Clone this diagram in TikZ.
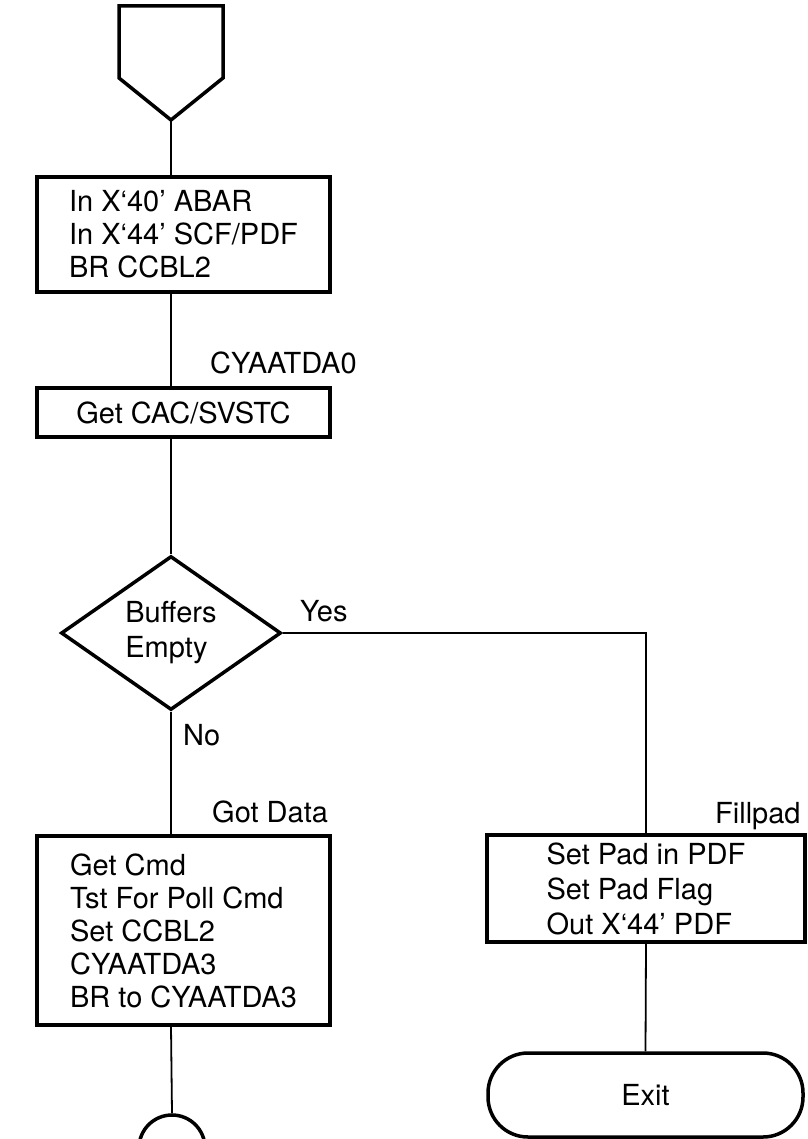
\documentclass[tikz,border=0pt]{standalone}
\usepackage{fontspec}
\setmainfont{TeX Gyre Heros}
\usetikzlibrary{shapes.geometric}

\begin{document}
\begin{tikzpicture}[x=1pt, y=-1pt,
    box/.style={draw, line width=3.5pt, align=left, inner sep=0pt, font=\fontsize{29}{33}\selectfont},
    lbl/.style={anchor=base west, inner sep=0pt, font=\fontsize{29}{33}\selectfont},
    link/.style={line width=1.8pt}]
    \useasboundingbox (0,0) rectangle (807,1139);
    \clip (0,0) rectangle (807,1139);

    % Entry connector
    \coordinate (offpg) at (171,120);
    \draw[line width=3.5pt, line join=miter] (119,6) -- (223,6) -- (223,78) -- (offpg) -- (119,78) -- cycle;

    % Main column
    \node[box, minimum width=293, minimum height=115] (init) at (183.5,234.5)
        {In X‘40’ ABAR\\In X‘44’ SCF/PDF\\BR CCBL2};
    \node[lbl] (lab0) at (210,373) {CYAATDA0};
    \node[box, minimum width=293, minimum height=49] (getcac) at (183.5,412.5) {Get CAC/SVSTC};
    \node[box, diamond, minimum width=220, minimum height=133, font=\fontsize{29}{35}\selectfont] (bufq) at (171,633)
        {Buffers\\Empty};
    \node[lbl] (labyes) at (300,621) {Yes};
    \node[lbl] (labno) at (183,745) {No};
    \node[lbl] (labgot) at (212,822) {Got Data};
    \node[box, minimum width=293, minimum height=189] (getcmd) at (183.5,930.5)
        {Get Cmd\\Tst For Poll Cmd\\Set CCBL2\\CYAATDA3\\BR to CYAATDA3};
    \node[circle, draw, line width=3.5pt, minimum size=66, inner sep=0pt] (cont) at (172,1148) {};

    % Yes branch
    \node[lbl] (labfill) at (715,823) {Fillpad};
    \node[box, minimum width=318, minimum height=107, font=\fontsize{29}{35}\selectfont] (fillpad) at (646,888.5)
        {Set Pad in PDF\\Set Pad Flag\\Out X‘44’ PDF};
    \node[box, rounded corners=40pt, minimum width=315, minimum height=84] (exit) at (645.5,1095) {Exit};

    % Connectors
    \draw[link] (offpg) -- (offpg |- init.north);
    \draw[link] (offpg |- init.south) -- (offpg |- getcac.north);
    \draw[link] (offpg |- getcac.south) -- (bufq.north);
    \draw[link] (bufq.east) -- (fillpad.north |- bufq.east) -- (fillpad.north);
    \draw[link] (bufq.south) -- (bufq.south |- getcmd.north);
    \draw[link] (bufq.south |- getcmd.south) -- (cont.north);
    \draw[link] (fillpad.south) -- (exit.north);
\end{tikzpicture}
\end{document}
